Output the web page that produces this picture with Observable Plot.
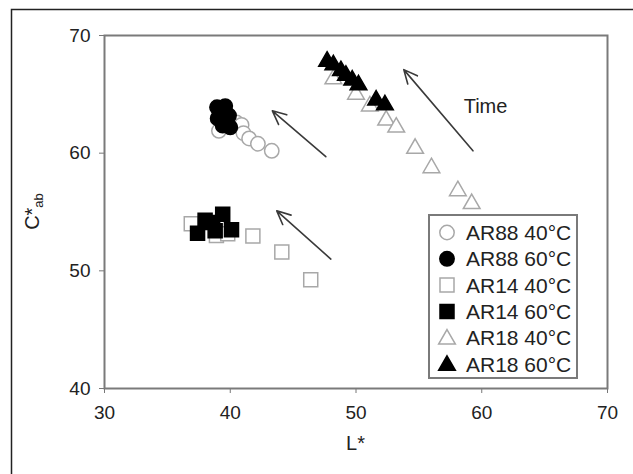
<!DOCTYPE html>
<html>
<head>
<meta charset="utf-8">
<script src="https://cdn.jsdelivr.net/npm/d3@7"></script>
<script src="https://cdn.jsdelivr.net/npm/@observablehq/plot@0.6"></script>
<style>
  html, body { margin: 0; padding: 0; background: #fff; }
  #chart { width: 633px; height: 474px; overflow: hidden; }
</style>
</head>
<body>
<div id="chart"></div>
<script>
// ---- data ----
const xTicks = [30, 40, 50, 60, 70];
const yTicks = [40, 50, 60, 70];

const ar88_40_L = [39.1, 40.5, 40.9, 41.05, 41.5, 42.2, 43.3];
const ar88_40_C = [61.9, 62.6, 62.4, 61.7, 61.25, 60.8, 60.2];
const ar88_60_L = [38.95, 39.6, 39.9, 40.0, 39.4, 39.0, 39.3];
const ar88_60_C = [63.9, 64.0, 63.2, 62.2, 62.35, 62.95, 63.45];

const ar14_40_L = [36.9, 38.9, 39.8, 41.8, 44.1, 46.4];
const ar14_40_C = [54.0, 53.0, 53.15, 52.95, 51.6, 49.25];
const ar14_60_L = [37.4, 38.0, 38.6, 38.8, 39.4, 40.1];
const ar14_60_C = [53.2, 54.3, 54.1, 53.4, 54.8, 53.5];

const ar18_40_L = [48.2, 50.0, 51.1, 52.4, 53.2, 54.7, 56.0, 58.1, 59.2];
const ar18_40_C = [66.3, 65.0, 64.0, 62.8, 62.2, 60.4, 58.75, 56.8, 55.7];
const ar18_60_L = [47.7, 48.2, 48.8, 49.2, 49.7, 50.2, 51.6, 52.3];
const ar18_60_C = [67.8, 67.5, 67.0, 66.6, 66.2, 65.8, 64.5, 64.1];

const seriesNames = ["AR88 40°C", "AR88 60°C", "AR14 40°C", "AR14 60°C", "AR18 40°C", "AR18 60°C"];

// arrows: tail (L1,C1) -> tip (L2,C2)
const arrowL1 = [47.6, 48.0, 59.3];
const arrowC1 = [59.7, 51.0, 60.2];
const arrowL2 = [43.35, 43.7, 53.8];
const arrowC2 = [63.6, 55.1, 67.1];

const noteText = ["Time"];
const noteL = [60.3];
const noteC = [64.0];

// ---- build ----
const zip = (L, C) => L.map((l, i) => ({L: l, C: C[i]}));
const series = [
  {name: seriesNames[0], data: zip(ar88_40_L, ar88_40_C), symbol: "circle", r: 7.2, fill: "white", stroke: "#a8a8a8"},
  {name: seriesNames[1], data: zip(ar88_60_L, ar88_60_C), symbol: "circle", r: 7.2, fill: "black", stroke: "black"},
  {name: seriesNames[2], data: zip(ar14_40_L, ar14_40_C), symbol: "square", r: 7.9, fill: "white", stroke: "#a8a8a8"},
  {name: seriesNames[3], data: zip(ar14_60_L, ar14_60_C), symbol: "square", r: 7.9, fill: "black", stroke: "black"},
  {name: seriesNames[4], data: zip(ar18_40_L, ar18_40_C), symbol: "triangle", r: 6.2, fill: "white", stroke: "#a8a8a8"},
  {name: seriesNames[5], data: zip(ar18_60_L, ar18_60_C), symbol: "triangle", r: 6.2, fill: "black", stroke: "black"}
];
const arrows = arrowL1.map((l, i) => ({x1: l, y1: arrowC1[i], x2: arrowL2[i], y2: arrowC2[i]}));
const notes = noteText.map((t, i) => ({text: t, L: noteL[i], C: noteC[i]}));

const FONT = "'Liberation Sans', Arial, Helvetica, sans-serif";

const plot = Plot.plot({
  width: 633,
  height: 474,
  marginLeft: 104,
  marginRight: 26,
  marginTop: 35,
  marginBottom: 86,
  style: {fontFamily: FONT, fontSize: "19px", background: "white", color: "#222"},
  x: {domain: [30, 70], label: null},
  y: {domain: [40, 70], label: null},
  marks: [
    Plot.axisX({ticks: xTicks, tickSize: 5, tickPadding: 12, stroke: "#777", fill: "#222", fontSize: 19, tickFormat: d => String(d)}),
    Plot.axisY({ticks: yTicks, tickSize: 5, tickPadding: 9, stroke: "#777", fill: "#222", fontSize: 19, tickFormat: d => String(d)}),
    Plot.arrow(arrows, {x1: "x1", y1: "y1", x2: "x2", y2: "y2", stroke: "#3a3a3a", strokeWidth: 1.6, headLength: 14, headAngle: 50, bend: 0}),
    Plot.text(notes, {x: "L", y: "C", text: "text", fontSize: 20, fill: "#222"}),
    ...series.map(s => Plot.dot(s.data, {x: "L", y: "C", symbol: s.symbol, r: s.r, fill: s.fill, stroke: s.stroke, strokeWidth: 1.5})),
    Plot.frame({stroke: "#7a7a7a", strokeWidth: 2})
  ]
});

document.getElementById("chart").appendChild(plot);

// ---- decorations: outer frame, axis titles, legend ----
const svg = d3.select(plot);
const W = 633, H = 474;
svg.append("path")
  .attr("d", `M11.5,${H} V9.5 H${W}`)
  .attr("fill", "none").attr("stroke", "#222").attr("stroke-width", 1.5);

// axis titles
svg.append("text")
  .attr("x", (104 + (W - 26)) / 2).attr("y", 450)
  .attr("text-anchor", "middle").attr("font-family", FONT).attr("font-size", 20).attr("fill", "#222")
  .text("L*");

const yT = svg.append("text")
  .attr("transform", `translate(39,${(35 + (H - 86)) / 2}) rotate(-90)`)
  .attr("text-anchor", "middle").attr("font-family", FONT).attr("font-size", 20).attr("fill", "#222");
yT.append("tspan").text("C*");
yT.append("tspan").attr("font-size", 13).attr("dy", 4).text("ab");

// legend
const lg = svg.append("g");
const lx = 429, ly = 215, lw = 148, lh = 163;
lg.append("rect").attr("x", lx).attr("y", ly).attr("width", lw).attr("height", lh)
  .attr("fill", "white").attr("stroke", "#7a7a7a").attr("stroke-width", 2);
const symMap = {circle: d3.symbolCircle, square: d3.symbolSquare, triangle: d3.symbolTriangle};
series.forEach((s, i) => {
  const cy = ly + 17.5 + i * 26.3;
  lg.append("path")
    .attr("d", d3.symbol(symMap[s.symbol], Math.PI * s.r * s.r)())
    .attr("transform", `translate(${lx + 18},${cy + (s.symbol === "triangle" ? 1.5 : 0)})`)
    .attr("fill", s.fill).attr("stroke", s.stroke).attr("stroke-width", 1.5);
  lg.append("text")
    .attr("x", lx + 37).attr("y", cy).attr("dy", "0.36em")
    .attr("text-anchor", "start")
    .attr("font-family", FONT).attr("font-size", 21).attr("fill", "#222")
    .text(s.name);
});
</script>
</body>
</html>
